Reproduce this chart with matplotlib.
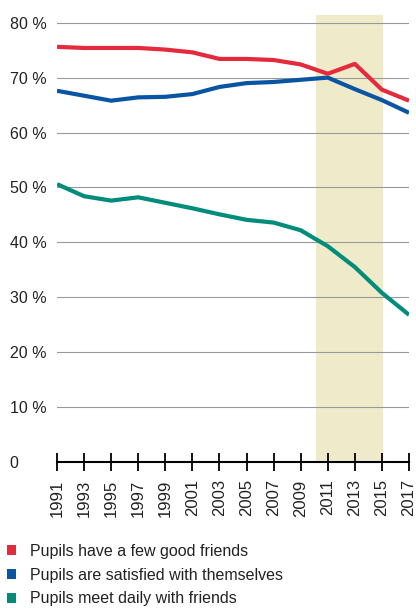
import numpy as np
import matplotlib.pyplot as plt
from matplotlib.patches import Patch

plt.rcParams['font.family'] = ['Liberation Sans', 'DejaVu Sans']

years = np.arange(1991, 2018, 2)
good_friends = [75.6, 75.4, 75.4, 75.4, 75.1, 74.6, 73.4, 73.4, 73.2, 72.4, 70.7, 72.5, 67.8, 65.8]
satisfied = [67.6, 66.7, 65.8, 66.4, 66.5, 67.0, 68.3, 69.0, 69.2, 69.6, 70.0, 67.9, 65.9, 63.6]
meet_daily = [50.6, 48.4, 47.6, 48.2, 47.2, 46.2, 45.1, 44.1, 43.6, 42.2, 39.3, 35.5, 30.8, 26.8]

labels = ["Pupils have a few good friends",
          "Pupils are satisfied with themselves",
          "Pupils meet daily with friends"]
colors = ["#e42a3c", "#0a55a3", "#008c7a"]

shade_start, shade_end = 2010.1, 2015.05
yticks = [0, 10, 20, 30, 40, 50, 60, 70, 80]
ytick_labels = ["0" if v == 0 else f"{v} %" for v in yticks]

W, H = 416, 608
fig = plt.figure(figsize=(W / 100, H / 100), dpi=100)
ax = fig.add_axes([57 / W, 1 - 462 / H, (409 - 57) / W, (462 - 15) / H])

ax.set_xlim(1991, 2017)
ax.set_ylim(0, 81.4)

ax.axvspan(shade_start, shade_end, color="#efebca", zorder=0, lw=0)

for v in yticks[1:]:
    ax.axhline(v, color="#999999", lw=0.8, zorder=1)

series = [satisfied, meet_daily, good_friends]
cols = [colors[1], colors[2], colors[0]]
for vals, c in zip(series, cols):
    ax.plot(years, vals, color=c, lw=3.0, solid_capstyle="butt",
            solid_joinstyle="round", zorder=3)

for s in ["top", "right", "left"]:
    ax.spines[s].set_visible(False)
ax.spines["bottom"].set_color("black")
ax.spines["bottom"].set_linewidth(1.5)
ax.spines["bottom"].set_zorder(4)

ax.set_xticks(years)
ax.set_xticklabels([str(y) for y in years], rotation=90, fontsize=12, color="#222222")
ax.tick_params(axis="x", direction="inout", length=13, width=1.3, color="black", pad=6)

ax.set_yticks(yticks)
ax.set_yticklabels(ytick_labels, fontsize=11.5, color="#222222")
for lab in ax.get_yticklabels():
    lab.set_horizontalalignment("left")
ax.tick_params(axis="y", length=0, pad=34)

handles = [Patch(facecolor=c, edgecolor="none") for c in colors]
fig.legend(handles, labels, loc="upper left", bbox_to_anchor=(0.005, 1 - 539 / H),
           frameon=False, fontsize=11.5, handlelength=0.6, handleheight=0.6,
           handletextpad=0.85, labelspacing=0.55, borderaxespad=0, borderpad=0.3,
           labelcolor="#222222")

fig.savefig("out.png", dpi=100)
